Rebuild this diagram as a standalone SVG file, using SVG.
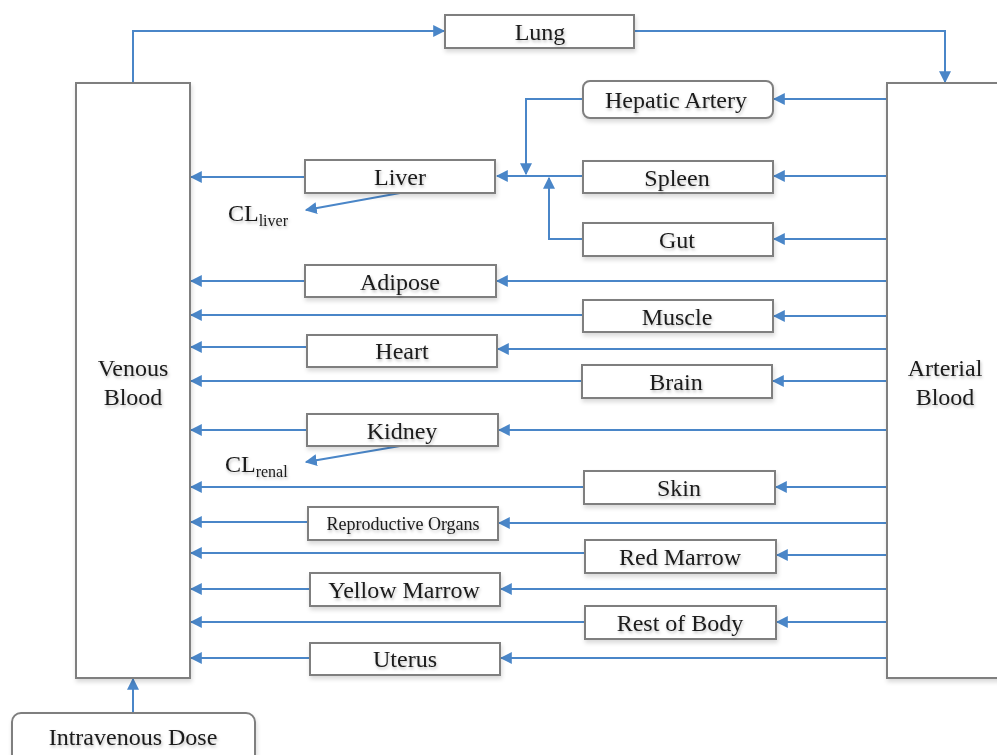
<svg xmlns="http://www.w3.org/2000/svg" width="997" height="755" viewBox="0 0 997 755">
<style>
.box{fill:#fff;stroke:#7f7f7f;stroke-width:2;filter:url(#sh)}
.t{font-family:"Liberation Serif","Times New Roman",serif;font-size:24px;fill:#1a1a1a;text-anchor:middle;filter:url(#tsh)}
.s{font-size:18px}
.c{fill:none;stroke:#4a86c8;stroke-width:2;marker-end:url(#ah)}
</style>
<defs>
<marker id="ah" viewBox="0 0 10 10" refX="9" refY="5" markerWidth="6" markerHeight="6" markerUnits="strokeWidth" orient="auto">
<path d="M0,0 L10,5 L0,10 z" fill="#4a86c8"/>
</marker>
<filter id="sh" x="-10%" y="-20%" width="130%" height="160%">
<feDropShadow dx="1" dy="3" stdDeviation="2" flood-color="#000" flood-opacity="0.15"/>
</filter>
<filter id="tsh" x="-10%" y="-30%" width="120%" height="180%">
<feDropShadow dx="1" dy="2" stdDeviation="1.5" flood-color="#000" flood-opacity="0.25"/>
</filter>
</defs>
<rect width="997" height="755" fill="#fff"/>
<g id="connectors">
<path class="c" d="M133,83 V31 H444"/>
<path class="c" d="M635,31 H945 V82"/>
<path class="c" d="M887,99 H774"/>
<path class="c" d="M583,99 H526 V174"/>
<path class="c" d="M887,176 H774"/>
<path class="c" d="M583,176 H497"/>
<path class="c" d="M887,239 H774"/>
<path class="c" d="M583,239 H549 V178"/>
<path class="c" d="M305,177 H191"/>
<path class="c" d="M400,193 L306,210"/>
<path class="c" d="M887,281 H497"/>
<path class="c" d="M305,281 H191"/>
<path class="c" d="M887,316 H774"/>
<path class="c" d="M583,315 H191"/>
<path class="c" d="M887,349 H498"/>
<path class="c" d="M307,347 H191"/>
<path class="c" d="M887,381 H773"/>
<path class="c" d="M582,381 H191"/>
<path class="c" d="M887,430 H499"/>
<path class="c" d="M307,430 H191"/>
<path class="c" d="M400,446 L306,462"/>
<path class="c" d="M887,487 H776"/>
<path class="c" d="M584,487 H191"/>
<path class="c" d="M887,523 H499"/>
<path class="c" d="M308,522 H191"/>
<path class="c" d="M892,555 H777"/>
<path class="c" d="M585,553 H191"/>
<path class="c" d="M887,589 H501"/>
<path class="c" d="M310,589 H191"/>
<path class="c" d="M887,622 H777"/>
<path class="c" d="M585,622 H191"/>
<path class="c" d="M887,658 H501"/>
<path class="c" d="M310,658 H191"/>
<path class="c" d="M133,713 V679"/>
</g>
<g id="venous"><rect class="box" x="76" y="83" width="114" height="595"/><text class="t" x="133" y="376">Venous</text><text class="t" x="133" y="405">Blood</text></g>
<g id="arterial"><rect class="box" x="887" y="83" width="120" height="595"/><text class="t" x="945" y="376">Arterial</text><text class="t" x="945" y="405">Blood</text></g>
<g id="lung"><rect class="box" x="445" y="15" width="189" height="33"/><text class="t" x="540" y="40">Lung</text></g>
<g id="hepatic"><rect class="box" x="583" y="81" width="190" height="37" rx="7"/><text class="t" x="676" y="108">Hepatic Artery</text></g>
<g id="spleen"><rect class="box" x="583" y="161" width="190" height="32"/><text class="t" x="677" y="186">Spleen</text></g>
<g id="gut"><rect class="box" x="583" y="223" width="190" height="33"/><text class="t" x="677" y="248">Gut</text></g>
<g id="liver"><rect class="box" x="305" y="160" width="190" height="33"/><text class="t" x="400" y="185">Liver</text></g>
<g id="cl-liver"><text class="t" x="228" y="221" style="text-anchor:start">CL<tspan style="font-size:16px" dy="5">liver</tspan></text></g>
<g id="adipose"><rect class="box" x="305" y="265" width="191" height="32"/><text class="t" x="400" y="290">Adipose</text></g>
<g id="muscle"><rect class="box" x="583" y="300" width="190" height="32"/><text class="t" x="677" y="325">Muscle</text></g>
<g id="heart"><rect class="box" x="307" y="335" width="190" height="32"/><text class="t" x="402" y="359">Heart</text></g>
<g id="brain"><rect class="box" x="582" y="365" width="190" height="33"/><text class="t" x="676" y="390">Brain</text></g>
<g id="kidney"><rect class="box" x="307" y="414" width="191" height="32"/><text class="t" x="402" y="439">Kidney</text></g>
<g id="cl-renal"><text class="t" x="225" y="472" style="text-anchor:start">CL<tspan style="font-size:16px" dy="5">renal</tspan></text></g>
<g id="skin"><rect class="box" x="584" y="471" width="191" height="33"/><text class="t" x="679" y="496">Skin</text></g>
<g id="reproductive"><rect class="box" x="308" y="507" width="190" height="33"/><text class="t s" x="403" y="530">Reproductive Organs</text></g>
<g id="red-marrow"><rect class="box" x="585" y="540" width="191" height="33"/><text class="t" x="680" y="565">Red Marrow</text></g>
<g id="yellow-marrow"><rect class="box" x="310" y="573" width="190" height="33"/><text class="t" x="404" y="598">Yellow Marrow</text></g>
<g id="rest"><rect class="box" x="585" y="606" width="191" height="33"/><text class="t" x="680" y="631">Rest of Body</text></g>
<g id="uterus"><rect class="box" x="310" y="643" width="190" height="32"/><text class="t" x="405" y="667">Uterus</text></g>
<g id="iv-dose"><rect class="box" x="12" y="713" width="243" height="55" rx="9"/><text class="t" x="133" y="745">Intravenous Dose</text></g>
</svg>
